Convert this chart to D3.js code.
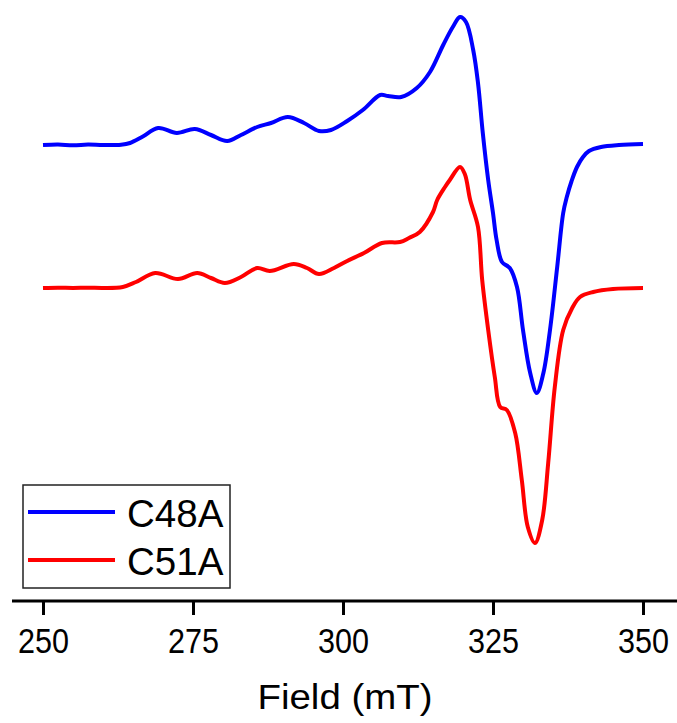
<!DOCTYPE html>
<html>
<head>
<meta charset="utf-8">
<script src="https://cdn.jsdelivr.net/npm/d3@7"></script>
<style>
  html, body { margin: 0; padding: 0; background: #fff; }
  svg { display: block; }
  text { font-family: "Liberation Sans", Arial, sans-serif; fill: #000; }
</style>
</head>
<body>
<svg id="chart" width="677" height="723"></svg>
<script>
// EPR spectra: magnetic field (mT) vs derivative signal (a.u.)
const seriesNames = ["C48A", "C51A"];
const seriesColors = ["#0000ff", "#ff0000"];
const xTicks = [250, 275, 300, 325, 350];

const fieldC48A = [250, 252.5, 255, 257.5, 260, 263, 264.5, 266.5, 269.2, 272.3, 275.3, 278, 280.7, 283, 285.7, 288, 290.8, 293.5, 296, 298, 300.7, 303.3, 306.2, 307.5, 309.7, 312.3, 314.5, 316.7, 318.3, 319.5, 320.5, 321.7, 322.5, 323.3, 324.2, 325, 325.6, 326.5, 327.8, 329, 330, 331.2, 332.3, 333.4, 334.5, 335.7, 336.7, 337.3, 338.1, 339, 340, 341, 343, 346, 350];
const signalC48A = [0, 0.5, -0.3, 0.4, 0, 0.3, 2, 8, 17, 12, 16, 10, 4, 10, 18, 22, 28, 22, 14, 15, 24, 35, 50, 49, 48, 57, 73, 100, 118, 128, 123, 95, 62, 12, -35, -68, -95, -117, -123, -142, -185, -228, -248, -228, -185, -122, -68, -52, -36, -22, -12, -6, -2, 0, 1];

const fieldC51A = [250, 252.5, 255, 257.5, 260, 263.3, 265.5, 268.7, 272.5, 275.7, 278, 280.3, 283, 285.7, 287.8, 291.8, 294, 296, 298.5, 300.7, 303.5, 306.5, 309.5, 311, 312.8, 315, 315.7, 317, 317.8, 319.5, 320.3, 321.2, 322.5, 323.2, 324.2, 325.3, 326.2, 327.3, 328.7, 329.8, 330.8, 332, 333.2, 334.2, 335.3, 336.7, 338.2, 339.5, 341.7, 345, 350];
const signalC51A = [0, 0.3, 0, 0.3, 0, 1, 6, 15, 9, 15, 10, 5, 11, 20, 17, 24, 20, 14, 20, 27, 35, 45, 46, 50, 56, 76, 88, 101, 108, 121, 114, 88, 61, 8, -42, -89, -119, -122, -145, -192, -239, -255, -232, -175, -99, -42, -20, -9, -4, -1, 0];

// vertical stacking offsets of the two traces
const offsets = [456, 313];

const series = [
  { name: seriesNames[0], color: seriesColors[0], field: fieldC48A, signal: signalC48A, offset: offsets[0] },
  { name: seriesNames[1], color: seriesColors[1], field: fieldC51A, signal: signalC51A, offset: offsets[1] }
];

const svg = d3.select("#chart");

const x = d3.scaleLinear().domain([250, 350]).range([43, 643]);
const y = d3.scaleLinear().domain([0, 600]).range([601, 1]);

const line = d3.line()
  .x(d => x(d[0]))
  .y(d => y(d[1]))
  .curve(d3.curveCatmullRom.alpha(0.5));

series.forEach(s => {
  const pts = s.field.map((f, i) => [f, s.signal[i] + s.offset]);
  svg.append("path")
    .datum(pts)
    .attr("fill", "none")
    .attr("stroke", s.color)
    .attr("stroke-width", 4)
    .attr("stroke-linejoin", "round")
    .attr("d", line);
});

// bottom axis
const axisY = 601;
svg.append("line")
  .attr("x1", 12).attr("x2", 677)
  .attr("y1", axisY).attr("y2", axisY)
  .attr("stroke", "#000").attr("stroke-width", 3);

const axisG = svg.append("g")
  .attr("transform", `translate(0,${axisY})`)
  .call(d3.axisBottom(x).tickValues(xTicks).tickSize(14).tickPadding(0).tickFormat(d3.format("d")));
axisG.select(".domain").remove();
axisG.selectAll(".tick line").attr("stroke", "#000").attr("stroke-width", 3);
axisG.selectAll(".tick text")
  .attr("y", 52)
  .attr("dy", null)
  .attr("font-size", 35)
  .attr("textLength", 51)
  .attr("lengthAdjust", "spacingAndGlyphs")
  .style("font-family", '"Liberation Sans", Arial, sans-serif')
  .attr("fill", "#000");

svg.append("text")
  .attr("x", 345).attr("y", 709)
  .attr("text-anchor", "middle")
  .attr("font-size", 35)
  .attr("textLength", 175)
  .attr("lengthAdjust", "spacingAndGlyphs")
  .text("Field (mT)");

// legend
const legend = svg.append("g");
legend.append("rect")
  .attr("x", 23).attr("y", 485)
  .attr("width", 207).attr("height", 103)
  .attr("fill", "#fff")
  .attr("stroke", "#222").attr("stroke-width", 1.5);

const legendRows = [512, 560];
series.forEach((s, i) => {
  legend.append("line")
    .attr("x1", 28).attr("x2", 115)
    .attr("y1", legendRows[i]).attr("y2", legendRows[i])
    .attr("stroke", s.color).attr("stroke-width", 4);
  legend.append("text")
    .attr("x", 127).attr("y", legendRows[i] + 15)
    .attr("font-size", 38.5)
    .text(s.name);
});
</script>
</body>
</html>
